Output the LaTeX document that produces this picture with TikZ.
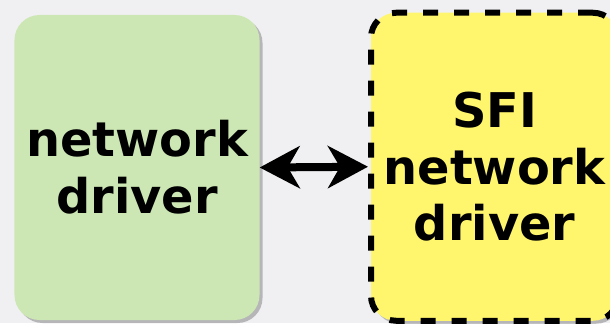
\documentclass[tikz,border=0pt]{standalone}
\usepackage{fontspec}
\setsansfont{DejaVu Sans}
\usetikzlibrary{arrows.meta,shadows}

\definecolor{canvas}{RGB}{240,240,242}
\definecolor{drvgreen}{RGB}{204,231,180}
\definecolor{sfiyellow}{RGB}{255,246,110}

\begin{document}
\begin{tikzpicture}[
  x=1bp, y=1bp,
  box/.style={rounded corners=25bp, inner sep=0pt, align=center,
              font=\sffamily\bfseries\fontsize{48}{57}\selectfont,
              drop shadow={shadow xshift=3bp, shadow yshift=-3bp, opacity=0.35, fill=black!70}},
  arr/.style={{Stealth[length=40bp, width=42bp, inset=12bp]}-{Stealth[length=40bp, width=42bp, inset=12bp]}, line width=8bp}
]
  % canvas
  \fill[canvas] (0,0) rectangle (610,323);
  \useasboundingbox (0,0) rectangle (610,323);
  \clip (0,0) rectangle (610,323);

  \node[box, fill=drvgreen, minimum width=245bp, minimum height=305bp] (drv) at (137,155.5)
    {network\\driver};

  \node[box, fill=sfiyellow, draw=black, line width=6bp, dash pattern=on 15bp off 16bp,
        minimum width=247bp, minimum height=308bp] (sfi) at (494.5,156.25)
    {SFI\\network\\driver};

  \draw[arr] (drv.east) -- (sfi.west);
\end{tikzpicture}
\end{document}
